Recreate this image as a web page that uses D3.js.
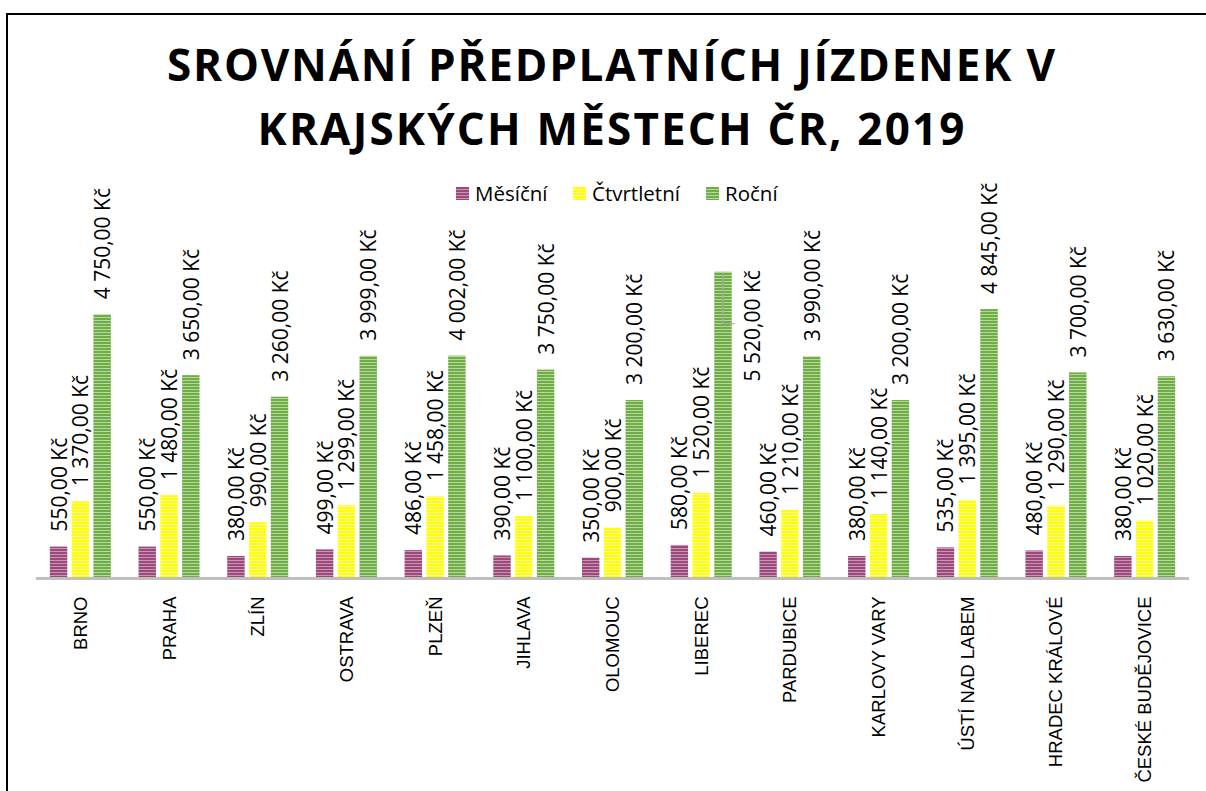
<!DOCTYPE html>
<html>
<head>
<meta charset="utf-8">
<script src="https://cdn.jsdelivr.net/npm/d3@7"></script>
<style>
  body { margin: 0; background: #fff; }
  svg { display: block; }
</style>
</head>
<body>
<svg id="chart" width="1206" height="791"></svg>
<script>
// data
var cities = ["BRNO", "PRAHA", "ZLÍN", "OSTRAVA", "PLZEŇ", "JIHLAVA", "OLOMOUC",
  "LIBEREC", "PARDUBICE", "KARLOVY VARY", "ÚSTÍ NAD LABEM", "HRADEC KRÁLOVÉ", "ČESKÉ BUDĚJOVICE"];
var seriesNames = ["Měsíční", "Čtvrtletní", "Roční"];
var monthly = [550, 550, 380, 499, 486, 390, 350, 580, 460, 380, 535, 480, 380];
var quarterly = [1370, 1480, 990, 1299, 1458, 1100, 900, 1520, 1210, 1140, 1395, 1290, 1020];
var yearly = [4750, 3650, 3260, 3999, 4002, 3750, 3200, 5520, 3990, 3200, 4845, 3700, 3630];
var titleLines = ["SROVNÁNÍ PŘEDPLATNÍCH JÍZDENEK V", "KRAJSKÝCH MĚSTECH ČR, 2019"];

var colors = [
  { main: "#9c4a7c", light: "#c993b4" },
  { main: "#ffff00", light: "#ffffa8" },
  { main: "#70ad47", light: "#b4d89c" }
];

var svg = d3.select("#chart");

// frame
svg.append("rect")
  .attr("x", 7).attr("y", 14)
  .attr("width", 1240).attr("height", 820)
  .attr("fill", "#fff").attr("stroke", "#000").attr("stroke-width", 2);

/*striped fills*/
var defs = svg.append("defs");
colors.forEach(function(c, i) {
  var p = defs.append("pattern")
    .attr("id", "stripe" + i)
    .attr("patternUnits", "userSpaceOnUse")
    .attr("width", 6).attr("height", 3);
  p.append("rect").attr("width", 6).attr("height", 3).attr("fill", c.main);
  p.append("rect").attr("y", 2).attr("width", 6).attr("height", 1).attr("fill", c.light);
});

/*title*/
var title = svg.append("g")
  .attr("font-family", "'Open Sans', sans-serif")
  .attr("font-weight", "bold")
  .attr("font-size", 44)
  .attr("fill", "#000")
  .attr("text-anchor", "middle");
title.append("text").attr("x", 611).attr("y", 81)
  .attr("textLength", 888).attr("lengthAdjust", "spacing")
  .text(titleLines[0]);
title.append("text").attr("x", 611).attr("y", 145)
  .attr("textLength", 707).attr("lengthAdjust", "spacing")
  .text(titleLines[1]);

/*legend*/
var legend = svg.append("g")
  .attr("font-family", "'Open Sans', sans-serif")
  .attr("font-size", 20.5);
var legendX = [456, 573, 706];
seriesNames.forEach(function(name, i) {
  var g = legend.append("g").attr("transform", "translate(" + legendX[i] + ",187)");
  g.append("rect").attr("width", 13).attr("height", 13).attr("fill", "url(#stripe" + i + ")");
  g.append("text").attr("x", 19).attr("y", 13.5).text(name);
});

/*scales*/
var x0 = d3.scaleBand()
  .domain(cities)
  .range([36, 1189])
  .paddingInner(0.312)
  .paddingOuter(0.156);
var x1 = d3.scaleBand()
  .domain([0, 1, 2])
  .range([0, x0.bandwidth()])
  .paddingInner(0.2);
var y = d3.scaleLinear()
  .domain([0, 6000])
  .range([577, 245.2]);

var locale = d3.formatLocale({ decimal: ",", thousands: " ", grouping: [3], currency: ["", " Kč"] });
var fmt = locale.format("$,.2f");

var rows = cities.map(function(c, i) {
  return { city: c, values: [monthly[i], quarterly[i], yearly[i]] };
});
var maxYearly = d3.max(yearly);

/*bars*/
var groups = svg.append("g").selectAll("g")
  .data(rows)
  .join("g")
  .attr("transform", function(d) { return "translate(" + x0(d.city) + ",0)"; });

groups.selectAll("rect")
  .data(function(d) { return d.values.map(function(v, s) { return { s: s, v: v }; }); })
  .join("rect")
  .attr("x", function(d) { return x1(d.s); })
  .attr("width", x1.bandwidth())
  .attr("y", function(d) { return y(d.v); })
  .attr("height", function(d) { return y(0) - y(d.v); })
  .attr("fill", function(d) { return "url(#stripe" + d.s + ")"; });

/*data labels*/
groups.selectAll("text")
  .data(function(d) { return d.values.map(function(v, s) { return { s: s, v: v }; }); })
  .join("text")
  .attr("font-family", "'Open Sans', sans-serif")
  .attr("font-size", 21)
  .attr("fill", "#000")
  .attr("dominant-baseline", "central")
  .attr("text-anchor", function(d) { return d.v === maxYearly ? "middle" : "start"; })
  .attr("transform", function(d) {
    var cx = x1(d.s) + x1.bandwidth() / 2;
    if (d.v === maxYearly) {
      return "translate(" + (cx + 29) + "," + (y(d.v) + 54) + ") rotate(-90)";
    }
    return "translate(" + cx + "," + (y(d.v) - 15) + ") rotate(-90)";
  })
  .text(function(d) { return fmt(d.v); });

// leader line for the label moved beside the tallest bar
groups.filter(function(d) { return d.values[2] === maxYearly; })
  .append("path")
  .attr("fill", "none")
  .attr("stroke", "#a6a6a6")
  .attr("stroke-width", 1.2)
  .attr("d", function(d) {
    var cx = x1(2) + x1.bandwidth() / 2;
    var top = y(d.values[2]) + 2;
    return "M" + cx + "," + top + "V" + (top + 50) + "H" + (cx + 12);
  });

/*category axis*/
var xAxis = d3.axisBottom(x0).tickSize(0).tickPadding(0);
var axisG = svg.append("g")
  .attr("transform", "translate(0," + (y(0) + 1.5) + ")")
  .call(xAxis);
axisG.select(".domain")
  .attr("stroke", "#bfbfbf")
  .attr("stroke-width", 3)
  .attr("d", "M" + x0.range()[0] + ",0H" + x0.range()[1]);
axisG.selectAll(".tick text")
  .attr("font-family", "'Liberation Sans', Arial, sans-serif")
  .attr("font-size", 18.5)
  .attr("fill", "#000")
  .attr("text-anchor", "end")
  .attr("dominant-baseline", "central")
  .attr("dy", null)
  .attr("y", 0)
  .attr("transform", "translate(0,18) rotate(-90)");
</script>
</body>
</html>
